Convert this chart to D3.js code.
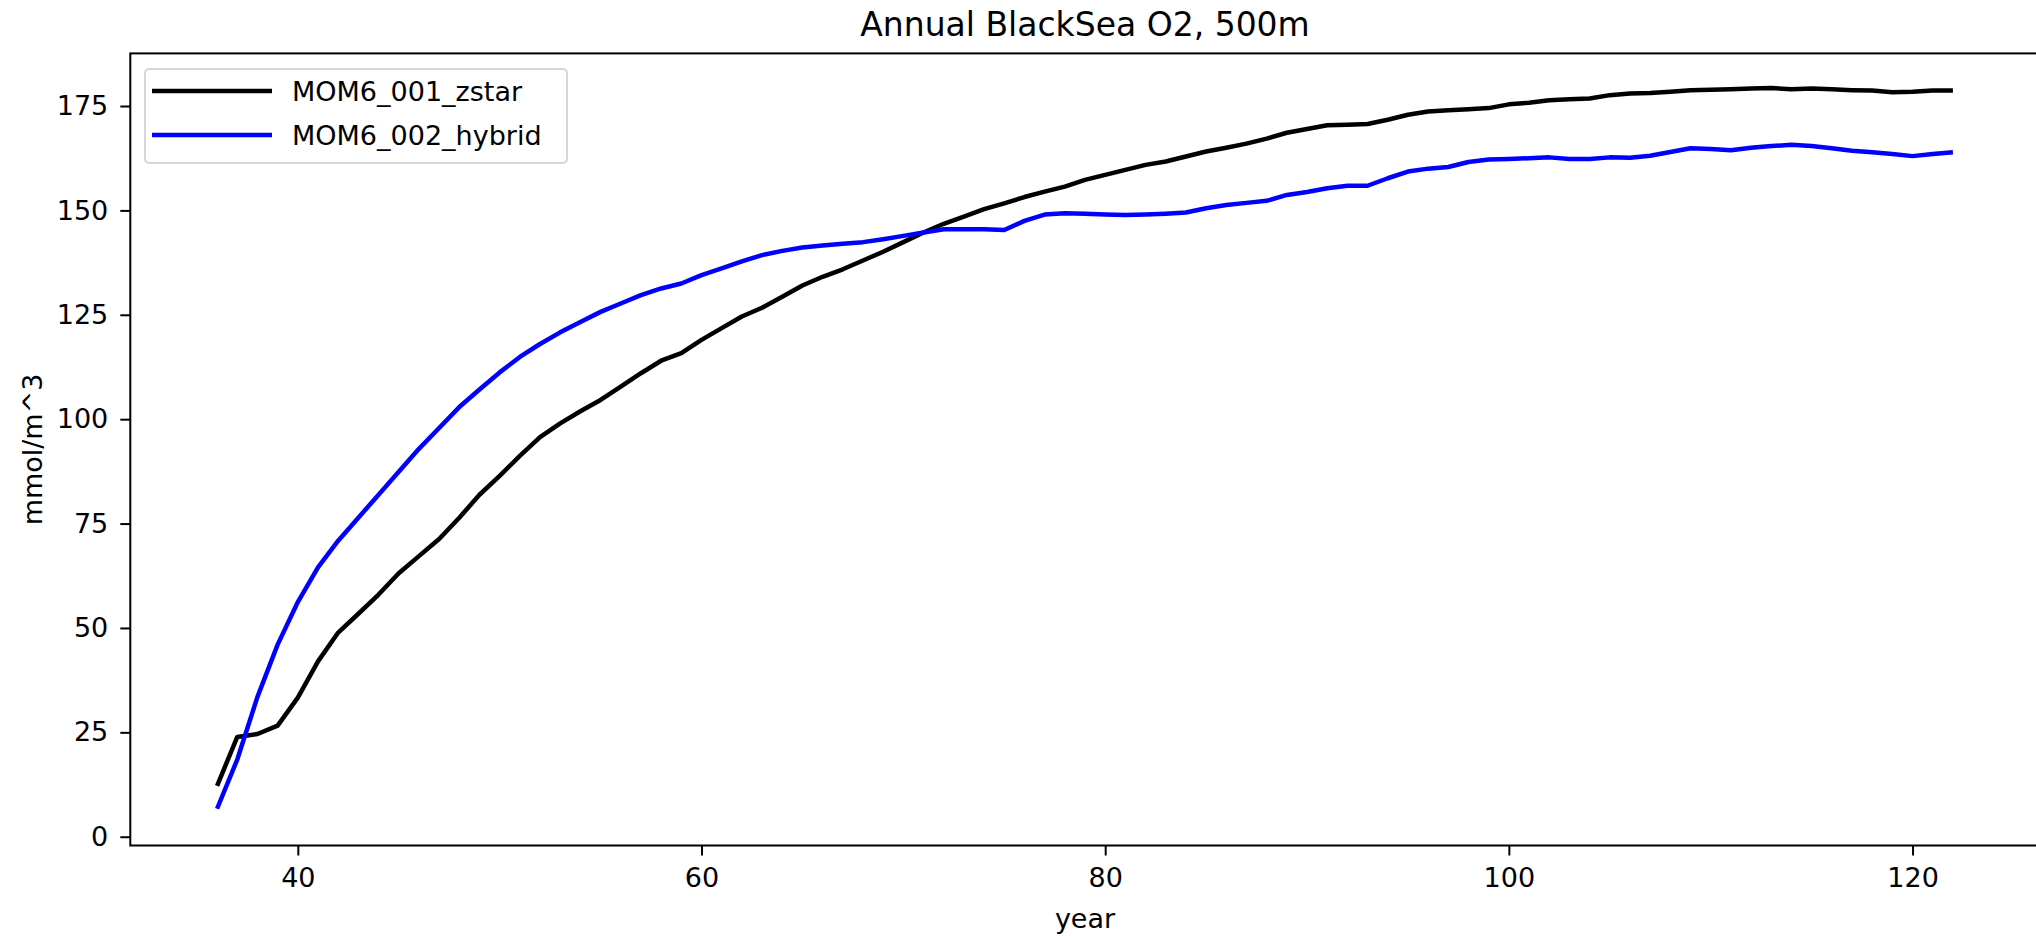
<!DOCTYPE html>
<html lang="en">
<head>
    <meta charset="UTF-8">
    <title>Annual BlackSea O2, 500m</title>
    <script src="https://d3js.org/d3.v7.min.js"></script>
    <style>
        body {
            margin: 0;
            background: #ffffff;
            font-family: "DejaVu Sans", sans-serif;
        }
    </style>
</head>
<body>
<main></main>
<script>

    // years 36..122
    var years = d3.range(36, 123);

    var zstar = [
        12.2, 23.9, 24.6, 26.6, 33.3, 42.0, 48.9, 53.4, 58.0, 63.1,
        67.2, 71.3, 76.4, 81.9, 86.4, 91.2, 95.7, 99.0, 101.9, 104.6,
        107.8, 111.0, 114.0, 115.8, 119.0, 121.8, 124.6, 126.7, 129.3, 132.0,
        134.1, 135.9, 138.0, 140.1, 142.4, 144.7, 146.8, 148.5, 150.3, 151.7,
        153.2, 154.5, 155.7, 157.3, 158.5, 159.7, 160.9, 161.7, 162.9, 164.1,
        165.0, 166.0, 167.2, 168.6, 169.5, 170.4, 170.5, 170.7, 171.7, 172.9,
        173.7, 174.0, 174.2, 174.5, 175.4, 175.8, 176.4, 176.6, 176.8, 177.6,
        178.0, 178.1, 178.4, 178.8, 178.9, 179.0, 179.2, 179.3, 179.0, 179.2,
        179.0, 178.8, 178.7, 178.3, 178.4, 178.7, 178.7
    ];

    var hybrid = [
        6.7, 18.5, 33.5, 46.0, 56.2, 64.5, 70.9, 76.4, 81.9, 87.4,
        92.9, 97.9, 102.9, 107.1, 111.2, 114.9, 118.0, 120.8, 123.3, 125.7,
        127.7, 129.7, 131.3, 132.5, 134.5, 136.1, 137.8, 139.3, 140.3, 141.1,
        141.6, 142.0, 142.4, 143.1, 143.9, 144.7, 145.5, 145.5, 145.5, 145.3,
        147.5, 149.0, 149.3, 149.2, 149.0, 148.9, 149.0, 149.2, 149.5, 150.5,
        151.3, 151.8, 152.3, 153.7, 154.4, 155.3, 155.9, 155.9, 157.7, 159.3,
        160.0, 160.4, 161.6, 162.2, 162.3, 162.5, 162.7, 162.3, 162.3, 162.7,
        162.6, 163.1, 164.0, 164.9, 164.7, 164.4, 165.0, 165.4, 165.7, 165.4,
        164.9, 164.3, 163.9, 163.5, 163.0, 163.5, 163.9
    ];

    var seriesNames = ['MOM6_001_zstar', 'MOM6_002_hybrid'];
    var seriesColors = ['#000000', '#0000ff'];
    var xTicks = [40, 60, 80, 100, 120];
    var yTicks = [0, 25, 50, 75, 100, 125, 150, 175];

    var w = 2036, h = 936;
    var m = {top: 53.4, left: 130.3, bottom: 90.5, right: -3.7};
    var fs = '27px';

    var svg = d3.select('main')
        .append('svg')
        .attr('width', w)
        .attr('height', h)
        .style('display', 'block')
        .style('background', '#ffffff');

    // matplotlib style 5% margins
    var xScale = d3.scaleLinear()
        .domain([31.7, 126.3])
        .range([m.left, w - m.right]);

    var yScale = d3.scaleLinear()
        .domain([-2.1, 187.6])
        .range([h - m.bottom, m.top]);

    var series = [zstar, hybrid].map(function(vals, i){
        return {
            name: seriesNames[i],
            color: seriesColors[i],
            points: years.map(function(yr, j){ return [yr, vals[j]]; })
        };
    });

    var line = d3.line()
        .x(function(d){ return xScale(d[0]); })
        .y(function(d){ return yScale(d[1]); });

    svg.append('g')
        .selectAll('path')
        .data(series)
        .enter()
        .append('path')
        .attr('d', function(d){ return line(d.points); })
        .attr('fill', 'none')
        .attr('stroke', function(d){ return d.color; })
        .attr('stroke-width', 4.5)
        .attr('stroke-linejoin', 'round');

    //axes
    var xAxis = d3.axisBottom(xScale)
        .tickValues(xTicks)
        .tickSize(10)
        .tickPadding(12)
        .tickSizeOuter(0);

    var yAxis = d3.axisLeft(yScale)
        .tickValues(yTicks)
        .tickSize(10)
        .tickPadding(12)
        .tickSizeOuter(0);

    var gx = svg.append('g')
        .attr('transform', 'translate(0,' + (h - m.bottom) + ')')
        .call(xAxis);

    var gy = svg.append('g')
        .attr('transform', 'translate(' + m.left + ',0)')
        .call(yAxis);

    [gx, gy].forEach(function(g){
        g.select('.domain').remove();
        g.selectAll('.tick line').attr('stroke', '#000').attr('stroke-width', 2);
        g.selectAll('.tick text')
            .attr('fill', '#000')
            .style('font-family', '"DejaVu Sans", sans-serif')
            .style('font-size', fs);
    });

    // frame (right side falls outside the picture)
    svg.append('rect')
        .attr('x', m.left)
        .attr('y', m.top)
        .attr('width', xScale.range()[1] - m.left)
        .attr('height', yScale.range()[0] - m.top)
        .attr('fill', 'none')
        .attr('stroke', '#000')
        .attr('stroke-width', 2);

    svg.append('text')
        .attr('x', (m.left + xScale.range()[1]) / 2)
        .attr('y', 36)
        .attr('text-anchor', 'middle')
        .style('font-size', '33px')
        .text('Annual BlackSea O2, 500m');

    svg.append('text')
        .attr('x', (m.left + xScale.range()[1]) / 2)
        .attr('y', 928)
        .attr('text-anchor', 'middle')
        .style('font-size', fs)
        .text('year');

    svg.append('text')
        .attr('transform', 'translate(42,' + ((m.top + yScale.range()[0]) / 2) + ') rotate(-90)')
        .attr('text-anchor', 'middle')
        .style('font-size', fs)
        .text('mmol/m^3');

    //legend
    var legend = svg.append('g').attr('id', 'legend');
    legend.append('rect')
        .attr('x', 145)
        .attr('y', 69)
        .attr('width', 422)
        .attr('height', 94)
        .attr('rx', 4)
        .attr('fill', '#ffffff')
        .attr('fill-opacity', 0.8)
        .attr('stroke', '#d6d6d6')
        .attr('stroke-width', 2);

    var rows = legend.selectAll('g.row')
        .data(series)
        .enter()
        .append('g')
        .attr('class', 'row')
        .attr('transform', function(d, i){ return 'translate(0,' + (91 + i * 44) + ')'; });

    rows.append('line')
        .attr('x1', 152)
        .attr('x2', 272)
        .attr('stroke', function(d){ return d.color; })
        .attr('stroke-width', 4.5);

    rows.append('text')
        .attr('x', 292)
        .attr('y', 9.5)
        .style('font-size', fs)
        .text(function(d){ return d.name; });

</script>
</body>
</html>
